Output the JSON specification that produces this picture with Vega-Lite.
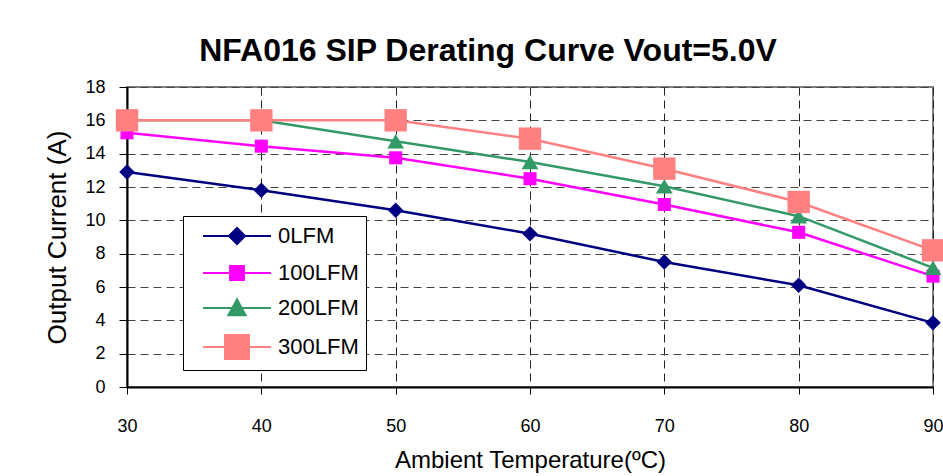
{
  "$schema": "https://vega.github.io/schema/vega-lite/v6.json",
  "width": 806,
  "height": 300,
  "autosize": {"type": "none"},
  "padding": {"left": 127, "top": 87, "right": 10, "bottom": 89},
  "background": "white",
  "title": {
    "text": "NFA016 SIP Derating Curve Vout=5.0V",
    "font": "Liberation Sans",
    "fontSize": 32,
    "fontWeight": "bold",
    "color": "black",
    "anchor": "middle",
    "dx": -42,
    "offset": 10
  },
  "config": {
    "font": "Liberation Sans",
    "view": {"stroke": "#808080", "strokeWidth": 2}
  },
  "data": {
    "values": [
      {"series": "0LFM", "temp": 30, "current": 12.9},
      {"series": "0LFM", "temp": 40, "current": 11.8},
      {"series": "0LFM", "temp": 50, "current": 10.6},
      {"series": "0LFM", "temp": 60, "current": 9.2},
      {"series": "0LFM", "temp": 70, "current": 7.5},
      {"series": "0LFM", "temp": 80, "current": 6.1},
      {"series": "0LFM", "temp": 90, "current": 3.85},
      {"series": "100LFM", "temp": 30, "current": 15.25},
      {"series": "100LFM", "temp": 40, "current": 14.45},
      {"series": "100LFM", "temp": 50, "current": 13.75},
      {"series": "100LFM", "temp": 60, "current": 12.5},
      {"series": "100LFM", "temp": 70, "current": 10.95},
      {"series": "100LFM", "temp": 80, "current": 9.28},
      {"series": "100LFM", "temp": 90, "current": 6.65},
      {"series": "200LFM", "temp": 30, "current": 16},
      {"series": "200LFM", "temp": 40, "current": 16},
      {"series": "200LFM", "temp": 50, "current": 14.75},
      {"series": "200LFM", "temp": 60, "current": 13.5},
      {"series": "200LFM", "temp": 70, "current": 12.05},
      {"series": "200LFM", "temp": 80, "current": 10.25},
      {"series": "200LFM", "temp": 90, "current": 7.15},
      {"series": "300LFM", "temp": 30, "current": 16},
      {"series": "300LFM", "temp": 40, "current": 16},
      {"series": "300LFM", "temp": 50, "current": 16},
      {"series": "300LFM", "temp": 60, "current": 14.9},
      {"series": "300LFM", "temp": 70, "current": 13.1},
      {"series": "300LFM", "temp": 80, "current": 11.1},
      {"series": "300LFM", "temp": 90, "current": 8.2}
    ]
  },
  "encoding": {
    "x": {
      "field": "temp",
      "type": "quantitative",
      "scale": {"domain": [30, 90], "nice": false, "zero": false},
      "axis": {
        "title": "Ambient Temperature(ºC)",
        "values": [30, 40, 50, 60, 70, 80, 90],
        "format": "d",
        "labelFontSize": 18,
        "labelColor": "black",
        "labelPadding": 23,
        "labelFlush": false,
        "titleFontSize": 24,
        "titleFontWeight": "normal",
        "titleColor": "black",
        "titlePadding": 13,
        "domainColor": "black",
        "domainWidth": 2,
        "tickColor": "black",
        "tickSize": 7,
        "tickWidth": 1,
        "grid": true,
        "gridColor": "#222222",
        "gridDash": [8, 5],
        "gridWidth": 1
      }
    },
    "y": {
      "field": "current",
      "type": "quantitative",
      "scale": {"domain": [0, 18], "nice": false},
      "axis": {
        "title": "Output Current (A)",
        "values": [0, 2, 4, 6, 8, 10, 12, 14, 16, 18],
        "labelFontSize": 18,
        "labelColor": "black",
        "labelPadding": 14,
        "titleFontSize": 26,
        "titleFontWeight": "normal",
        "titleColor": "black",
        "titlePadding": 14,
        "domainColor": "black",
        "domainWidth": 2,
        "tickColor": "black",
        "tickSize": 8,
        "tickWidth": 1,
        "grid": true,
        "gridColor": "#444444",
        "gridDash": [8, 5],
        "gridWidth": 1
      }
    },
    "color": {
      "field": "series",
      "type": "nominal",
      "scale": {
        "domain": ["0LFM", "100LFM", "200LFM", "300LFM"],
        "range": ["#000080", "#FF00FF", "#339966", "#FF8080"]
      },
      "legend": {
        "title": null,
        "orient": "none",
        "legendX": 56,
        "legendY": 129,
        "fillColor": "white",
        "strokeColor": "black",
        "padding": 7,
        "labelFontSize": 22,
        "labelColor": "black",
        "labelOffset": 28,
        "symbolOffset": 34,
        "symbolSize": 576,
        "symbolStrokeWidth": 2,
        "symbolOpacity": 1,
        "rowPadding": 11,
        "encode": {
          "symbols": {
            "update": {
              "shape": {"signal": "datum.value == '0LFM' ? 'M-2.83,0L2.83,0M-0.667,0L0,-0.667L0.667,0L0,0.667Z' : datum.value == '100LFM' ? 'M-2.83,0L2.83,0M-0.58,-0.58L0.58,-0.58L0.58,0.58L-0.58,0.58Z' : datum.value == '200LFM' ? 'M-2.83,0L2.83,0M-0.72,0.6L0.72,0.6L0,-0.72Z' : 'M-2.83,0L2.83,0M-1,-1L1,-1L1,1L-1,1Z'"},
              "fill": {"signal": "scale('color', datum.value)"},
              "stroke": {"signal": "scale('color', datum.value)"},
              "strokeWidth": {"value": 2},
              "size": {"value": 576},
              "opacity": {"value": 1},
              "fillOpacity": {"value": 1}
            }
          }
        }
      }
    }
  },
  "layer": [
    {
      "mark": {"type": "line", "strokeWidth": 2.5},
      "encoding": {}
    },
    {
      "transform": [{"filter": "datum.series == '0LFM'"}],
      "mark": {"type": "point", "filled": true, "opacity": 1, "shape": "diamond", "size": 240}
    },
    {
      "transform": [{"filter": "datum.series == '100LFM'"}],
      "mark": {"type": "point", "filled": true, "opacity": 1, "shape": "square", "size": 170}
    },
    {
      "transform": [{"filter": "datum.series == '200LFM'"}],
      "mark": {"type": "point", "filled": true, "opacity": 1, "shape": "triangle-up", "size": 280}
    },
    {
      "transform": [{"filter": "datum.series == '300LFM'"}],
      "mark": {"type": "point", "filled": true, "opacity": 1, "shape": "square", "size": 500}
    }
  ]
}
